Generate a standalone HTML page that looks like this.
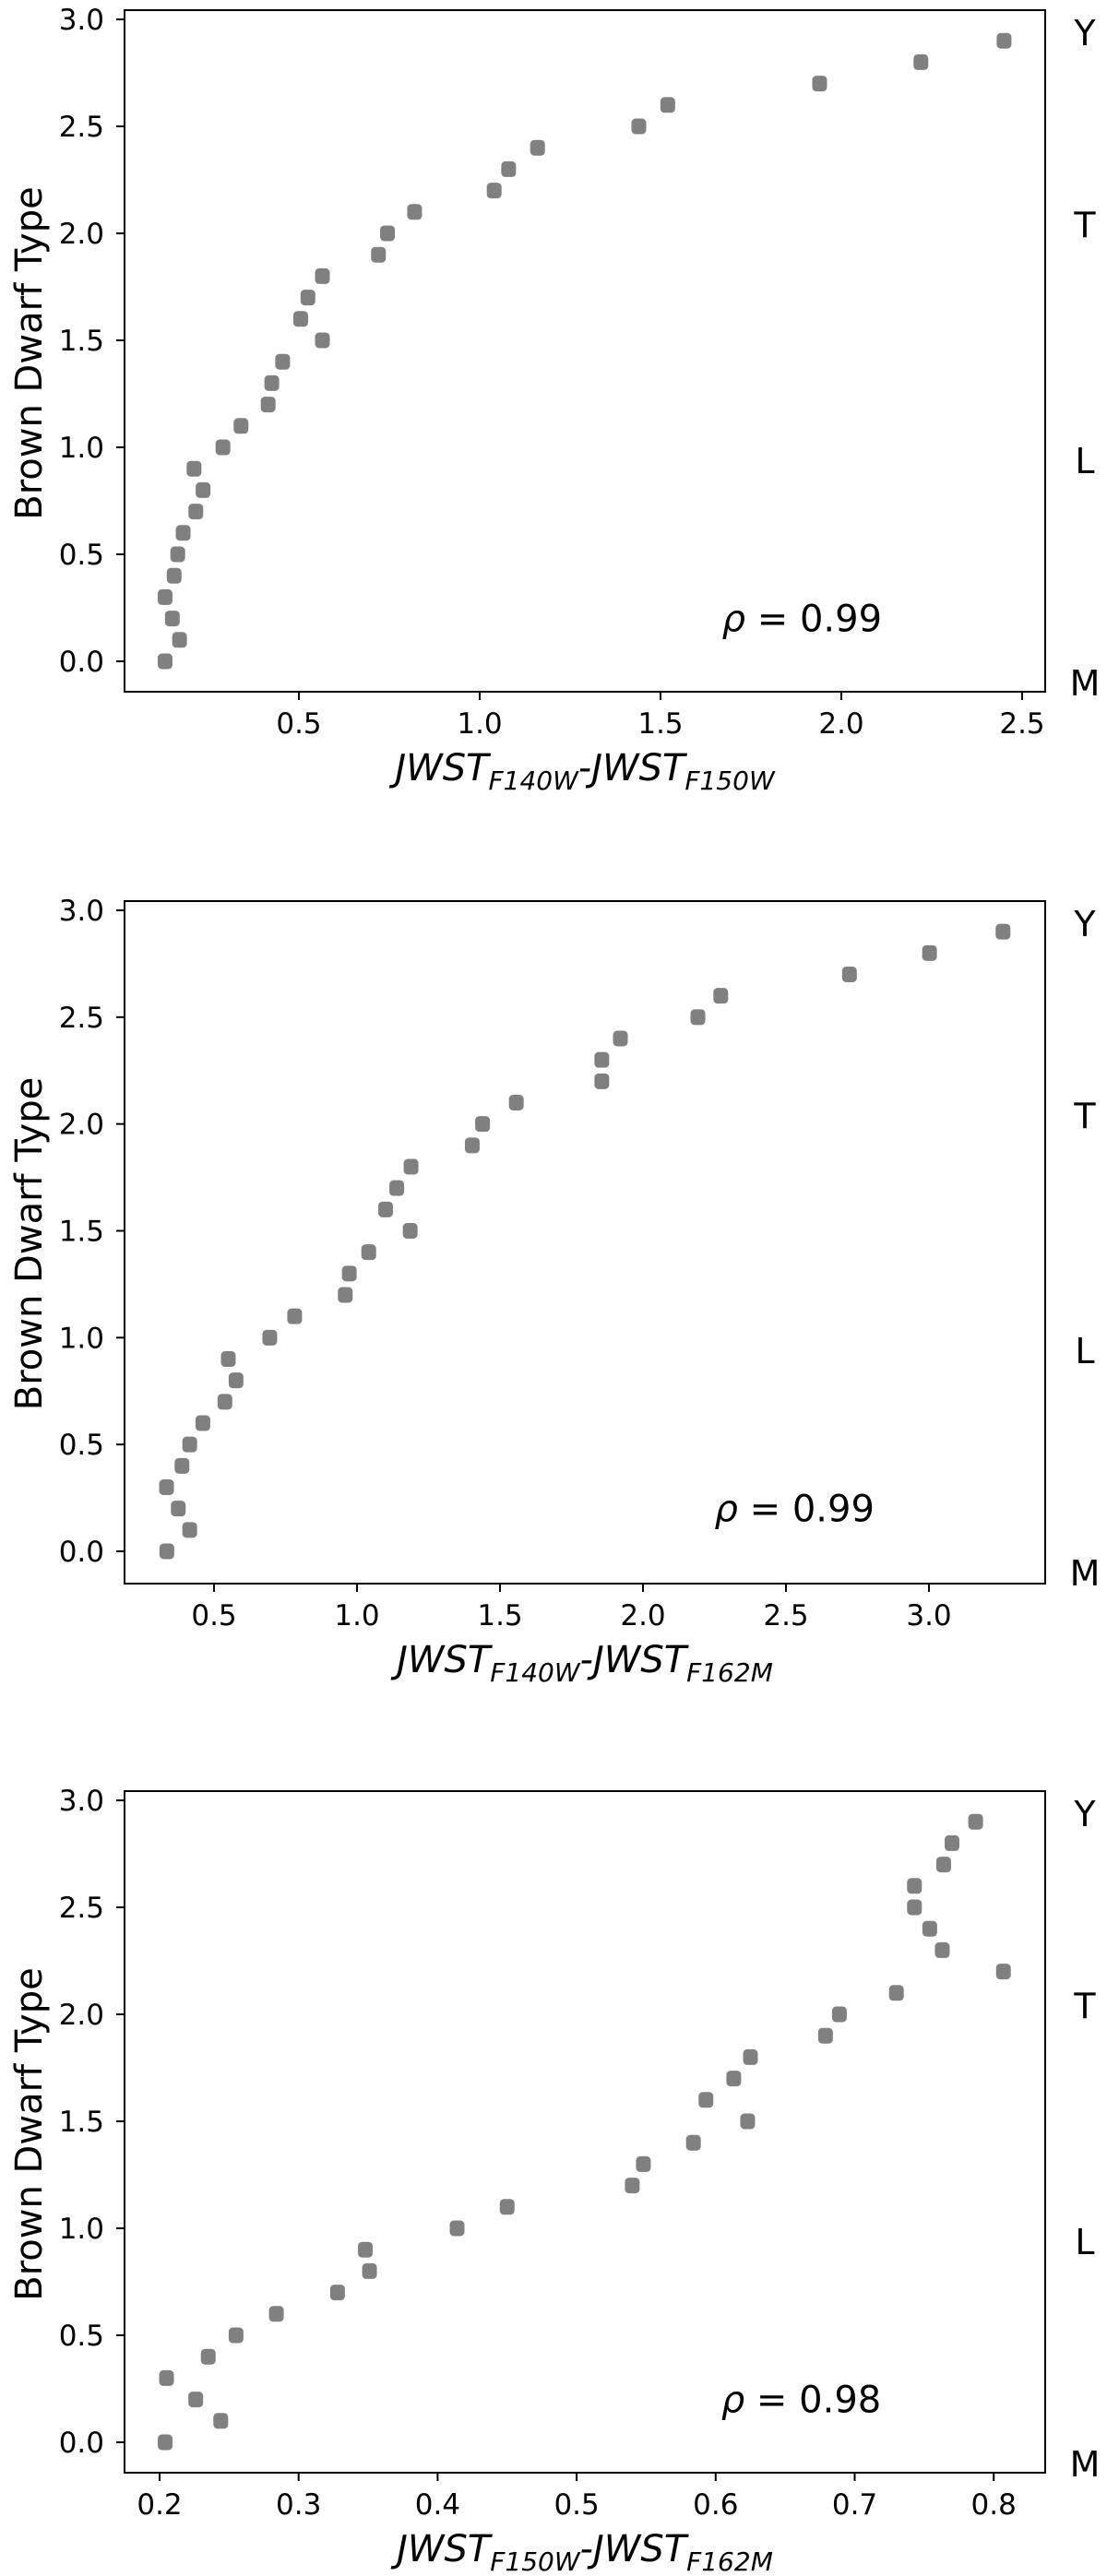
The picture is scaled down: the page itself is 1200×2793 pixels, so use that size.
<!DOCTYPE html>
<html><head><meta charset="utf-8"><style>
html,body{margin:0;padding:0;background:#fff;}
svg{display:block;font-family:"DejaVu Sans","Liberation Sans",sans-serif;}
</style></head><body>
<svg id="fig" width="1200" height="2793" viewBox="0 0 1200 2793" xmlns="http://www.w3.org/2000/svg"></svg>
<script>
const spectralTypes = [0,0.1,0.2,0.3,0.4,0.5,0.6,0.7,0.8,0.9,1.0,1.1,1.2,1.3,1.4,1.5,1.6,1.7,1.8,1.9,2.0,2.1,2.2,2.3,2.4,2.5,2.6,2.7,2.8,2.9];
const colorF140F150 = [0.13,0.17,0.15,0.13,0.155,0.165,0.18,0.215,0.235,0.21,0.29,0.34,0.415,0.425,0.455,0.565,0.505,0.525,0.565,0.72,0.745,0.82,1.04,1.08,1.16,1.44,1.52,1.94,2.22,2.45];
const colorF140F162 = [0.335,0.415,0.375,0.334,0.388,0.415,0.461,0.538,0.577,0.55,0.695,0.782,0.959,0.973,1.041,1.186,1.1,1.139,1.189,1.403,1.439,1.557,1.856,1.856,1.921,2.192,2.272,2.722,3.002,3.259];
const colorF150F162 = [0.204,0.244,0.226,0.205,0.235,0.255,0.284,0.328,0.351,0.348,0.414,0.45,0.54,0.548,0.584,0.623,0.593,0.613,0.625,0.679,0.689,0.73,0.807,0.763,0.754,0.743,0.743,0.764,0.77,0.787];
const yTicks = [0,0.5,1.0,1.5,2.0,2.5,3.0];
const xTicks1 = [0.5,1.0,1.5,2.0,2.5];
const xTicks2 = [0.5,1.0,1.5,2.0,2.5,3.0];
const xTicks3 = [0.2,0.3,0.4,0.5,0.6,0.7,0.8];
const rhoValues = ["0.99","0.99","0.98"];
const typeLetters = ["Y","T","L","M"];
const typeLetterPos = [2.94,2.04,0.94,-0.1];

const NS="http://www.w3.org/2000/svg";
const svg=document.getElementById('fig');
function mk(tag,attrs,parent){const e=document.createElementNS(NS,tag);for(const k in attrs)e.setAttribute(k,attrs[k]);(parent||svg).appendChild(e);return e;}

const panels=[
 {vals:colorF140F150,ticks:xTicks1,x0v:0.5,x0p:324,k:392,y3:21,y0:717,top:11,bot:750,s1:"F140W",s2:"F150W",rho:rhoValues[0],rx:1.67},
 {vals:colorF140F162,ticks:xTicks2,x0v:0.5,x0p:232,k:310,y3:987,y0:1682,top:977,bot:1717,s1:"F140W",s2:"F162M",rho:rhoValues[1],rx:2.25},
 {vals:colorF150F162,ticks:xTicks3,x0v:0.2,x0p:173,k:1507,y3:1952,y0:2648,top:1942,bot:2681,s1:"F150W",s2:"F162M",rho:rhoValues[2],rx:0.604}
];
const L=135,R=1133;
panels.forEach((p,i)=>{
  const g=mk('g',{});
  
  
  const xs=v=>p.x0p+(v-p.x0v)*p.k;
  const ys=v=>p.y0+(p.y3-p.y0)*v/3;
  // points
  const pts=mk('g',{},g);
  
  
  p.vals.forEach((v,j)=>{
    const r=mk('rect',{x:xs(v)-8,y:ys(spectralTypes[j])-8.5,width:16,height:17,rx:4.5,fill:'#808080'},pts);
    
    
  });
  // frame
  const fr=mk('rect',{x:L,y:p.top,width:R-L,height:p.bot-p.top,fill:'none',stroke:'#000','stroke-width':2},g);
  
  
  // y ticks
  yTicks.forEach(t=>{
    const y=ys(t);
    mk('line',{x1:L-9,x2:L,y1:y,y2:y,stroke:'#000','stroke-width':2},g);
    const tx=mk('text',{x:113,y:y+11,'font-size':31,'text-anchor':'end'},g);
    tx.textContent=t.toFixed(1);
    
    
  });
  p.ticks.forEach(t=>{
    const x=xs(t);
    mk('line',{x1:x,x2:x,y1:p.bot,y2:p.bot+9,stroke:'#000','stroke-width':2},g);
    const tx=mk('text',{x:x,y:p.bot+45,'font-size':31,'text-anchor':'middle'},g);
    tx.textContent=t.toFixed(1);
    
    
  });
  // y title
  const yt=mk('text',{x:0,y:0,'font-size':40,'text-anchor':'middle',transform:`translate(45,${(p.y0+p.y3)/2+14}) rotate(-90)`},g);
  yt.textContent='Brown Dwarf Type';
  
  
  // x title
  const xt=mk('text',{x:634,y:p.bot+96,'font-size':40,'font-style':'italic','text-anchor':'middle'},g);
  
  
  xt.innerHTML=`JWST<tspan font-size="28" dy="10">${p.s1}</tspan><tspan dy="-10">-JWST</tspan><tspan font-size="28" dy="10">${p.s2}</tspan>`;
  // rho
  const rt=mk('text',{x:xs(p.rx),y:ys(0.2)+14,'font-size':40},g);
  rt.innerHTML=`<tspan font-style="italic">ρ</tspan> = ${p.rho}`;
  
  
  // type letters
  typeLetters.forEach((c,j)=>{
    const lt=mk('text',{x:1176,y:ys(typeLetterPos[j])+14,'font-size':38,'text-anchor':'middle'},g);
    lt.textContent=c;
    
    
  });
});
</script>
</body></html>
